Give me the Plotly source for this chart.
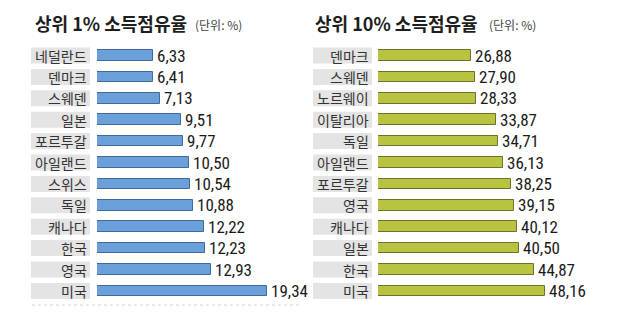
import plotly.graph_objects as go

# Top 1% income share (%)
top1_countries = ["네덜란드", "덴마크", "스웨덴", "일본", "포르투갈", "아일랜드",
                  "스위스", "독일", "캐나다", "한국", "영국", "미국"]
top1_values = [6.33, 6.41, 7.13, 9.51, 9.77, 10.50, 10.54, 10.88, 12.22, 12.23, 12.93, 19.34]

# Top 10% income share (%)
top10_countries = ["덴마크", "스웨덴", "노르웨이", "이탈리아", "독일", "아일랜드",
                   "포르투갈", "영국", "캐나다", "일본", "한국", "미국"]
top10_values = [26.88, 27.90, 28.33, 33.87, 34.71, 36.13, 38.25, 39.15, 40.12, 40.50, 44.87, 48.16]

titles = ["상위 1% 소득점유율", "상위 10% 소득점유율"]
unit_text = "(단위: %)"

W, H = 640, 325
KR = "Noto Sans CJK KR"
NUM = "Liberation Sans Narrow, Roboto Condensed, Liberation Sans, Arial"

ROW0, ROWSTEP = 55.5, 21.4
y_top = -ROW0 / ROWSTEP
y_bot = (H - ROW0) / ROWSTEP


def fmt(v):
    return f"{v:.2f}".replace(".", ",")


panels = [
    dict(countries=top1_countries, values=top1_values, fill="#6b9fd9", line="#3f6a9c",
         x0=97, pxu=8.79, box=(31, 90), title_x=33, unit_x=193, xa="x", ya="y"),
    dict(countries=top10_countries, values=top10_values, fill="#b8c43f", line="#6c7330",
         x0=378, pxu=3.47, box=(313, 372), title_x=313, unit_x=487, xa="x2", ya="y2"),
]

fig = go.Figure()
shapes, annotations = [], []
layout_axes = {}

for k, p in enumerate(panels):
    n = len(p["countries"])
    idx = list(range(n))
    fig.add_trace(go.Bar(
        x=p["values"], y=idx, orientation="h", width=0.49,
        marker=dict(color=p["fill"], line=dict(color=p["line"], width=1)),
        xaxis=p["xa"], yaxis=p["ya"], hoverinfo="skip", showlegend=False,
    ))
    x_end = 300 if k == 0 else 600
    xr = (x_end - p["x0"]) / p["pxu"]
    ax_name = "xaxis" if k == 0 else "xaxis2"
    ay_name = "yaxis" if k == 0 else "yaxis2"
    layout_axes[ax_name] = dict(domain=[p["x0"] / W, x_end / W], range=[0, xr],
                                visible=False, fixedrange=True,
                                anchor=p["ya"])
    layout_axes[ay_name] = dict(domain=[0, 1], range=[y_bot, y_top], visible=False,
                                fixedrange=True, anchor=p["xa"])

    for i, (c, v) in enumerate(zip(p["countries"], p["values"])):
        # grey label box behind the country name
        shapes.append(dict(type="rect", xref="paper", yref=p["ya"],
                           x0=p["box"][0] / W, x1=p["box"][1] / W,
                           y0=i - 8 / ROWSTEP, y1=i + 8 / ROWSTEP,
                           fillcolor="#e4e4e4", line=dict(width=0), layer="below"))
        annotations.append(dict(xref="paper", yref=p["ya"], x=(p["box"][1] - 1) / W, y=i,
                                text=c, showarrow=False, xanchor="right", yanchor="middle",
                                font=dict(family=KR, size=14, color="#333333")))
        annotations.append(dict(xref=p["xa"], yref=p["ya"], x=v, y=i, text=fmt(v),
                                showarrow=False, xanchor="left", yanchor="middle", xshift=2,
                                font=dict(family=NUM, size=17, color="#1a1a1a")))

    annotations.append(dict(xref="paper", yref="paper", x=p["title_x"] / W, y=1 - 23 / H,
                            text="<b>" + titles[k] + "</b>", showarrow=False,
                            xanchor="left", yanchor="middle",
                            font=dict(family=KR, size=18, color="#1e1e1e")))
    annotations.append(dict(xref="paper", yref="paper", x=p["unit_x"] / W, y=1 - 25 / H,
                            text=unit_text, showarrow=False, xanchor="left", yanchor="middle",
                            font=dict(family=KR, size=12, color="#444444")))

# faint dotted rule under the left panel
shapes.append(dict(type="line", xref="paper", yref="paper", x0=32 / W, x1=302 / W,
                   y0=1 - 305 / H, y1=1 - 305 / H,
                   line=dict(color="#d6d6d6", width=1, dash="dot")))

fig.update_layout(
    width=W, height=H, margin=dict(l=0, r=0, t=0, b=0),
    paper_bgcolor="white", plot_bgcolor="white",
    shapes=shapes, annotations=annotations, bargap=0,
    **layout_axes,
)

fig.write_html("out.html", config={"displayModeBar": False})
